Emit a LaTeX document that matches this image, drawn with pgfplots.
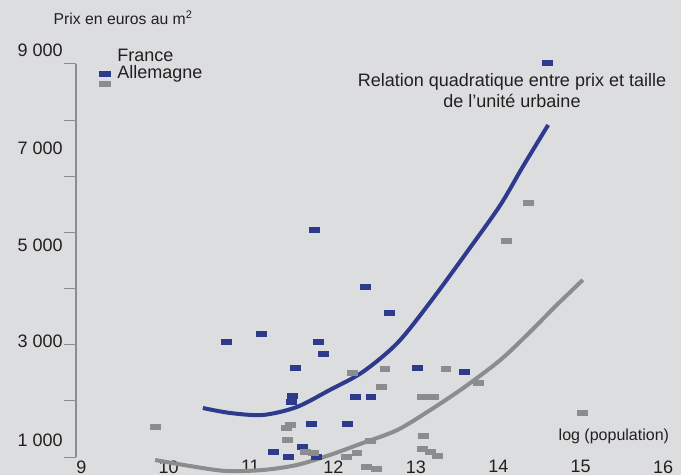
\documentclass[border=0pt]{standalone}
\usepackage{fontspec}
\setmainfont{Liberation Sans}
\usepackage{pgfplots}
\pgfplotsset{compat=1.18}
\definecolor{bgC}{HTML}{DCDDDF}
\definecolor{frC}{HTML}{2D3A8E}
\definecolor{deC}{HTML}{8A8C8E}
\definecolor{axC}{HTML}{8C8C8C}
\definecolor{txC}{HTML}{231F20}
\pgfdeclareplotmark{rect}{\pgfpathrectangle{\pgfpoint{-4.1pt}{-1.9pt}}{\pgfpoint{8.2pt}{3.8pt}}\pgfusepathqfill}

\begin{document}
\begin{tikzpicture}[font=\fontsize{13.5}{15.75}\selectfont, text=txC]
\fill[bgC] (0,0) rectangle (510.75pt,356.25pt);
\begin{axis}[
    at={(57pt,13.5pt)}, anchor=south west, scale only axis,
    width=432.6pt, height=294.75pt,
    xmin=9, xmax=16, ymin=651, ymax=8712,
    clip=false,
    axis y line*=left, axis x line*=bottom,
    x axis line style={draw=none},
    y axis line style={axC, line width=1.5pt},
    xtick={9,...,16}, xtick style={draw=none},
    xticklabel style={anchor=north west, inner sep=0pt, yshift=6.5pt},
    ytick={651,1802.6,2954.1,4105.7,5257.3,6408.9,7560.4,8712},
    yticklabels={},
    ytick style={axC, line width=0.75pt},
    tick align=outside, major tick length=9pt,
    /pgf/number format/assume math mode=true,
    legend style={draw=none, fill=none, at={(0.0399,0.9822)}, anchor=north west,
        inner sep=0pt, row sep=3.3pt, column sep=5pt, nodes={inner sep=0pt}},
    legend cell align=left,
    legend image code/.code={\fill[#1] (0pt,-1.9pt) rectangle (8.2pt,1.9pt);},
  ]
  % France
  \addplot[only marks, mark=rect, color=frC] table {
    x y
    14.72 8733
    10.83 3010
    11.25 3174
    11.90 5307
    12.51 4138
    12.80 3605
    11.94 3010
    12.00 2764
    11.66 2477
    11.63 1902
    11.61 1779
    11.86 1328
    12.29 1328
    12.39 1882
    12.58 1882
    13.15 2477
    13.72 2395
    11.75 856
    11.40 754
    11.58 651
    11.92 651
  };
  \addlegendentry{\smash{\raisebox{8.8pt}{France}}}
  % Allemagne
  \addplot[only marks, mark=rect, color=deC] table {
    x y
    9.96 1267
    12.36 2374
    12.75 2456
    12.71 2087
    13.20 1882
    13.34 1882
    13.49 2456
    13.88 2169
    14.22 5081
    14.49 5861
    15.15 1554
    11.60 1308
    11.56 1246
    11.57 1000
    11.78 754
    11.88 733
    12.28 651
    12.41 733
    12.57 979
    12.53 446
    12.65 405
    13.22 1082
    13.21 815
    13.30 754
    13.39 672
  };
  \addlegendentry{\smash{\raisebox{3.5pt}{Allemagne}}}
  % quadratic fits
  \addplot[forget plot, frC, line width=3pt, smooth] table {
    x y
    10.54 1656
    10.87 1554
    11.27 1513
    11.68 1677
    12.08 2026
    12.48 2395
    12.90 2989
    13.30 3830
    13.78 4938
    14.15 5820
    14.42 6599
    14.73 7461
  };
  \addplot[forget plot, deC, line width=3pt, smooth] table {
    x y
    9.96 590
    10.38 467
    10.82 364
    11.27 385
    11.68 487
    12.08 692
    12.48 938
    12.90 1205
    13.30 1615
    13.70 2067
    14.15 2641
    14.51 3215
    14.81 3728
    15.15 4282
  };
\end{axis}
\node[anchor=west, font=\fontsize{11.8}{14}\selectfont] at (36.75pt,342.75pt) {Prix en euros au m\textsuperscript{2}};
\node[anchor=west] at (9.75pt,318.75pt) {9 000};
\node[anchor=west] at (9.75pt,245.25pt) {7 000};
\node[anchor=west] at (9.75pt,172.5pt) {5 000};
\node[anchor=west] at (9.75pt,100.5pt) {3 000};
\node[anchor=west] at (9.75pt,26.25pt) {1 000};
\node[align=center] at (384pt,288.4pt) {Relation quadratique entre prix et taille\\de l’unité urbaine};
\node[anchor=west, font=\fontsize{12}{14}\selectfont] at (415.5pt,29.25pt) {log (population)};
\pgfresetboundingbox
\path (0,0) rectangle (510.75pt,356.25pt);
\end{tikzpicture}
\end{document}
